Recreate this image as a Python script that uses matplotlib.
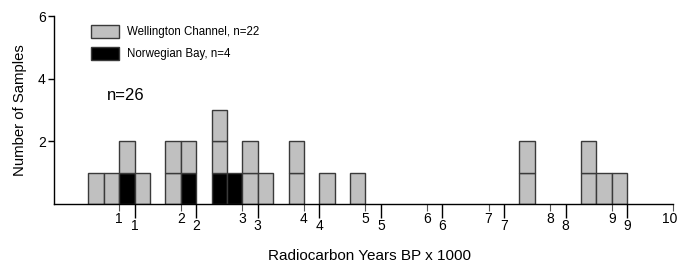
import matplotlib
matplotlib.use("Agg")
import matplotlib.pyplot as plt
import matplotlib.patches as mpatches
from matplotlib.transforms import ScaledTranslation

plt.rcParams['font.family'] = ['Liberation Sans', 'DejaVu Sans']

# ── Datos: bins de 250 años (inicio del bin, x1000 años BP) ──
bin_left = [0.5, 0.75, 1.0, 1.25, 1.75, 2.0, 2.5, 2.75, 3.0, 3.25,
            3.75, 4.25, 4.75, 7.5, 8.5, 8.75, 9.0]
norwegian = [0, 0, 1, 0, 0, 1, 1, 1, 0, 0, 0, 0, 0, 0, 0, 0, 0]
wellington = [1, 1, 1, 1, 2, 1, 2, 0, 2, 1, 2, 1, 1, 2, 2, 1, 1]
bin_width = 0.25

tick_a = [1, 2, 3, 4, 5, 6, 7, 8, 9, 10]
tick_b = [1.25, 2.25, 3.25, 4.25, 5.25, 6.25, 7.25, 8.25, 9.25]
tick_b_labels = ['1', '2', '3', '4', '5', '6', '7', '8', '9']

GRAY = '#c0c0c0'
EDGE = '#3a3a3a'

fig = plt.figure(figsize=(6.79, 2.65), dpi=100)
ax = fig.add_axes([54 / 679, 61 / 265, (673.3 - 54) / 679, 188 / 265])

# cada muestra es una caja
for x, nb, nw in zip(bin_left, norwegian, wellington):
    bottom = 0
    for _ in range(nb):
        ax.bar(x, 1, width=bin_width, bottom=bottom, align='edge',
               color='black', edgecolor=EDGE, linewidth=1.0)
        bottom += 1
    for _ in range(nw):
        ax.bar(x, 1, width=bin_width, bottom=bottom, align='edge',
               color=GRAY, edgecolor=EDGE, linewidth=1.0)
        bottom += 1

ax.set_xlim(-0.06, 10.0)
ax.set_ylim(0, 6)
for s in ['top', 'right']:
    ax.spines[s].set_visible(False)
ax.spines['left'].set_linewidth(1.0)
ax.spines['bottom'].set_linewidth(1.0)

ax.set_yticks([2, 4, 6])
ax.tick_params(axis='y', length=4, width=1, pad=2, labelsize=10)

# dos juegos de marcas en el eje x
ax.set_xticks(tick_a, [str(t) for t in tick_a])
ax.set_xticks(tick_b, tick_b_labels, minor=True)
ax.tick_params(axis='x', which='major', length=5, width=0.8, color='#555555',
               pad=1, labelsize=10)
ax.tick_params(axis='x', which='minor', length=10, width=1, color='black',
               pad=1, labelsize=10)
# el "10" queda pegado al borde: correrlo un poco
last = ax.xaxis.get_major_ticks()[-1].label1
last.set_transform(last.get_transform() + ScaledTranslation(-2.5 / 72, 0, fig.dpi_scale_trans))

ax.set_ylabel('Number of Samples', fontsize=10.7, labelpad=8)
ax.set_xlabel('Radiocarbon Years BP x 1000', fontsize=11)
ax.xaxis.label.set_va('center')
ax.xaxis.set_label_coords(0.51, -0.277)

ax.text(0.085, 0.575, 'n=26', transform=ax.transAxes, fontsize=12, va='center')

handles = [
    mpatches.Patch(facecolor=GRAY, edgecolor=EDGE, label='Wellington Channel, n=22'),
    mpatches.Patch(facecolor='black', edgecolor=EDGE, label='Norwegian Bay, n=4'),
]
fig.legend(handles=handles, loc='upper left', bbox_to_anchor=(91 / 679, 1 - 25 / 265),
           frameon=False, fontsize=8.3, handlelength=2.43, handleheight=1.3,
           handletextpad=0.7, labelspacing=0.78, borderpad=0, borderaxespad=0)

fig.savefig('out.png', dpi=100, facecolor='white')
